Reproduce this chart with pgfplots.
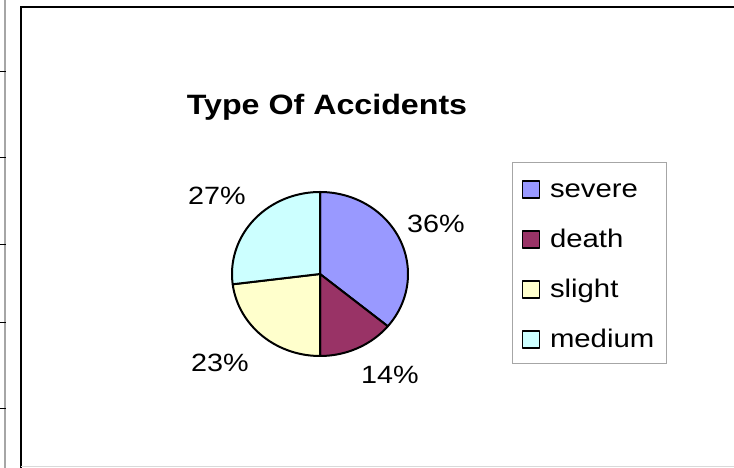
\documentclass[border=0pt]{standalone}
\usepackage{pgfplots}
\pgfplotsset{compat=1.18}
\usepackage{pgfplotstable}
\usepackage{fontspec}
\setmainfont{Liberation Sans}[FakeStretch=1.15]
\definecolor{sev}{HTML}{9999FF}
\definecolor{dea}{HTML}{993366}
\definecolor{sli}{HTML}{FFFFCC}
\definecolor{med}{HTML}{CCFFFF}
\pgfplotstableread{
label value
severe 36
death 14
slight 23
medium 27
}\accdata
\begin{document}
\begin{tikzpicture}[x=1pt,y=1pt]
\fill[white] (0,0) rectangle (734,468);
\path[use as bounding box] (0,0) rectangle (734,468);
\pgfplotstablegetelem{0}{value}\of\accdata \edef\vA{\pgfplotsretval}
\pgfplotstablegetelem{1}{value}\of\accdata \edef\vB{\pgfplotsretval}
\pgfplotstablegetelem{2}{value}\of\accdata \edef\vC{\pgfplotsretval}
\pgfplotstablegetelem{3}{value}\of\accdata \edef\vD{\pgfplotsretval}
\pgfmathsetmacro\aA{90}
\pgfmathsetmacro\aB{\aA-3.6*\vA}
\pgfmathsetmacro\aC{\aB-3.6*\vB}
\pgfmathsetmacro\aD{\aC-3.6*\vC}
\pgfmathsetmacro\aE{\aD-3.6*\vD}
% frame
\draw[gray!70, line width=1.8pt] (5,0) -- (5,468);
\foreach \yy in {396,310,223,145,59} \draw[line width=1pt] (0,\yy) -- (6,\yy);
\draw[line width=2.2pt] (20.7,0) -- (20.7,461.3) -- (734,461.3);
\draw[gray!30, line width=1pt] (20.7,1) -- (734,1);
\begin{axis}[at={(320pt,194pt)}, anchor=origin, width=176pt, height=164pt,
  scale only axis, xmin=-1, xmax=1, ymin=-1, ymax=1, hide axis, clip=false,
  legend image code/.code={\draw[#1, draw=black, line width=1.5pt] (0pt,-10pt) rectangle (17pt,7pt);},
  legend cell align=left,
  legend style={at={(axis cs:2.1818,1.3659)}, anchor=north west, draw=gray!70,
    line width=1pt, fill=white, font=\fontsize{25.5}{30}\selectfont,
    inner xsep=9pt, inner ysep=8pt, row sep=15pt, column sep=7pt,
    nodes={inner sep=3pt, text height=24pt, text depth=5pt}},
]
\addplot[fill=sev, draw=black, line width=2pt, line join=round, domain=\aB:\aA, samples=90] ({cos(x)},{sin(x)}) -- (axis cs:0,0) -- cycle;
\addlegendentry{severe}
\addplot[fill=dea, draw=black, line width=2pt, line join=round, domain=\aC:\aB, samples=40] ({cos(x)},{sin(x)}) -- (axis cs:0,0) -- cycle;
\addlegendentry{death}
\addplot[fill=sli, draw=black, line width=2pt, line join=round, domain=\aD:\aC, samples=60] ({cos(x)},{sin(x)}) -- (axis cs:0,0) -- cycle;
\addlegendentry{slight}
\addplot[fill=med, draw=black, line width=2pt, line join=round, domain=\aE:\aD, samples=70] ({cos(x)},{sin(x)}) -- (axis cs:0,0) -- cycle;
\addlegendentry{medium}
\end{axis}
\node[anchor=base, font=\bfseries\fontsize{28}{34}\selectfont] at (327,353) {Type Of Accidents};
\node[anchor=base, font=\fontsize{25}{30}\selectfont] at (217,263) {27\%};
\node[anchor=base, font=\fontsize{25}{30}\selectfont] at (436,235) {36\%};
\node[anchor=base, font=\fontsize{25}{30}\selectfont] at (220,96) {23\%};
\node[anchor=base, font=\fontsize{25}{30}\selectfont] at (390,84) {14\%};
\end{tikzpicture}
\end{document}
